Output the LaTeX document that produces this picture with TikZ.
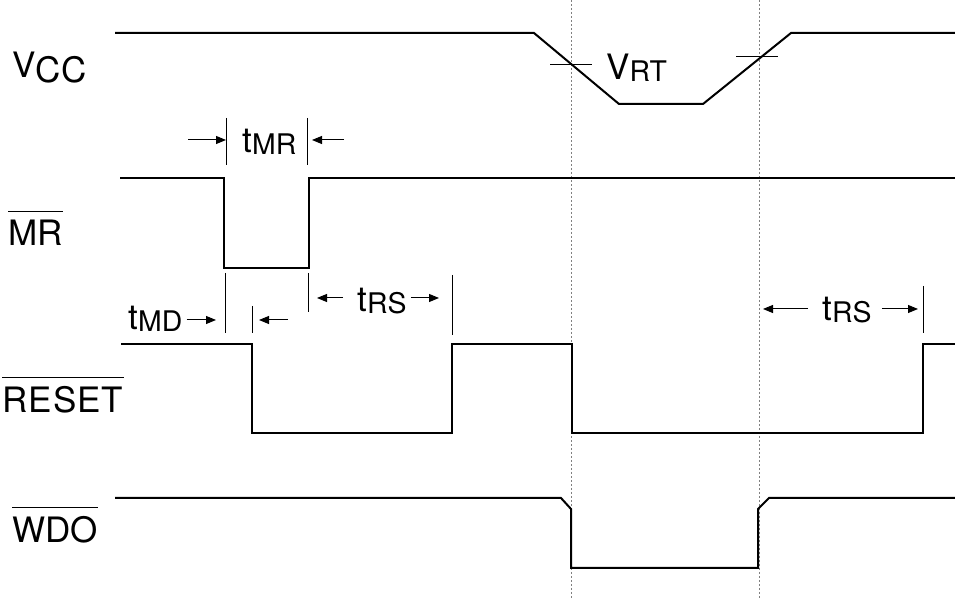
\documentclass[tikz,border=0pt]{standalone}
\usepackage{fontspec}
\setmainfont{TeX Gyre Heros}
\usetikzlibrary{arrows.meta}
\newcommand{\sig}[2]{#1\raisebox{-1pt}{\fontsize{14.2}{16}\selectfont #2}}

\begin{document}
\begin{tikzpicture}[x=0.5pt,y=-0.5pt,
  wave/.style={line width=1pt, line join=miter},
  tick/.style={line width=0.5pt},
  guide/.style={gray, line width=0.4pt, dash pattern=on 1pt off 1pt},
  dim/.style={line width=0.5pt, -{Triangle[length=5pt,width=4pt]}},
  lbl/.style={inner sep=0pt, anchor=base west, font=\fontsize{17.5}{21}\selectfont}]
\useasboundingbox (0,0) rectangle (955,598);

% guides
\draw[guide] (571,0) -- (571,598);
\draw[guide] (759,0) -- (759,598);

% waveforms
\draw[wave] (115,33) -- (534,33) -- (619,104) -- (703,104) -- (791,33) -- (955,33);
\draw[wave] (120,178) -- (224,178) -- (224,268) -- (309,268) -- (309,178) -- (955,178);
\draw[wave] (121,344) -- (252,344) -- (252,433) -- (452,433) -- (452,344) -- (572,344)
  -- (572,433) -- (923,433) -- (923,344) -- (955,344);
\draw[wave] (115,498) -- (561,498) -- (571,509) -- (571,568) -- (758,568) -- (758,509)
  -- (769,498) -- (955,498);

% signal names
\node[lbl] (vcc) at (12,78) {V\raisebox{-2.5pt}{CC}};
\node[lbl] (mr) at (8,246) {MR};
\node[lbl] (reset) at (2,413) {\addfontfeature{LetterSpace=3}RESET};
\node[lbl] (wdo) at (12,543) {WDO};
\foreach \n in {mr,reset,wdo}
  \draw[tick] ([yshift=4.5pt]\n.north west) -- ([yshift=4.5pt]\n.north east);

% threshold
\draw[tick] (550,65) -- (592,65);
\draw[tick] (736,57) -- (778,57);
\node[lbl] (vrt) at (606,80) {\sig{V}{RT}};

% tMR
\coordinate (mrL) at (226,118);
\coordinate (mrR) at (307,118);
\draw[tick] (mrL) -- ++(0,47);
\draw[tick] (mrR) -- ++(0,47);
\node[lbl] (tmr) at (242,153) {\sig{t}{MR}};
\draw[dim] (188,140) -- (mrL |- 0,140);
\draw[dim] (344,140) -- ([xshift=2.5pt]mrR |- 0,140);

% tMD
\coordinate (mdL) at (225,273);
\coordinate (mdR) at (252,306);
\draw[tick] (mdL) -- (mdL |- 0,333);
\draw[tick] (mdR) -- (mdR |- 0,333);
\node[lbl] (tmd) at (128,330) {\sig{t}{MD}};
\draw[dim] ([xshift=2pt]tmd.east |- 0,320) -- ([xshift=-4.5pt]mdL |- 0,320);
\draw[dim] (288,320) -- ([xshift=3.5pt]mdR |- 0,320);

% tRS after MR
\coordinate (rsA) at (308,273);
\coordinate (rsB) at (452,275);
\draw[tick] (rsA) -- ++(0,39);
\draw[tick] (rsB) -- ++(0,60);
\node[lbl] (trs) at (357,312) {\sig{t}{RS}};
\draw[dim] ([xshift=-7pt]trs.west |- 0,298) -- (317,298);
\draw[dim] ([xshift=2pt]trs.east |- 0,298) -- (439,298);

% tRS after power-up
\coordinate (rsC) at (923,286);
\draw[tick] (rsC) -- ++(0,47);
\node[lbl] (trs2) at (822,321) {\sig{t}{RS}};
\draw[dim] ([xshift=-7pt]trs2.west |- 0,309) -- (763,309);
\draw[dim] ([xshift=5pt]trs2.east |- 0,309) -- ([xshift=-2.5pt]rsC |- 0,309);
\end{tikzpicture}
\end{document}
